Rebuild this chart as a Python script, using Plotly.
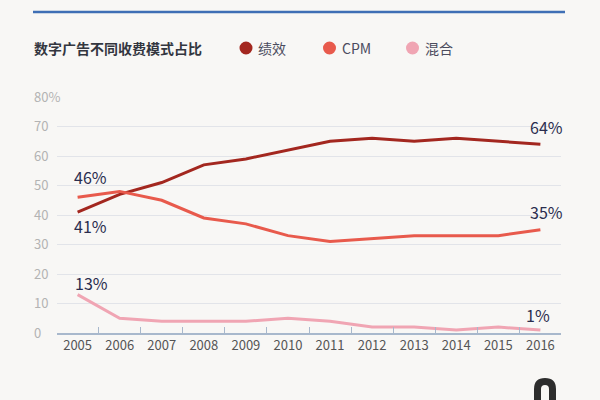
import plotly.graph_objects as go

years = [str(y) for y in range(2005, 2017)]
performance = [41, 47, 51, 57, 59, 62, 65, 66, 65, 66, 65, 64]
cpm = [46, 48, 45, 39, 37, 33, 31, 32, 33, 33, 33, 35]
mixed = [13, 5, 4, 4, 4, 5, 4, 2, 2, 1, 2, 1]
series_names = ["绩效", "CPM", "混合"]
colors = ["#a3271f", "#e85a4c", "#f0a5b3"]
y_ticks = [0, 10, 20, 30, 40, 50, 60, 70, 80]
y_ticktext = ["0", "10", "20", "30", "40", "50", "60", "70", "80%"]
title_text = "数字广告不同收费模式占比"

W, H = 600, 400
BG = "#f8f7f5"
FONT = "Noto Sans CJK SC"

def px(x):
    return x / W

def py(y):
    return 1 - y / H

fig = go.Figure()
for vals, name, col in zip([performance, cpm, mixed], series_names, colors):
    fig.add_trace(go.Scatter(x=years, y=vals, mode="lines", name=name,
                             line=dict(color=col, width=3), showlegend=False,
                             hoverinfo="skip"))

# end labels (category axes take the category index for annotations)
first, last = 0, len(years) - 1
labels = [
    (first, cpm[first], 13, 20),
    (first, performance[first], 13, -14),
    (first, mixed[first], 14, 12),
    (last, performance[last], 6, 17),
    (last, cpm[last], 6, 18),
    (last, mixed[last], -2, 15),
]
for x, y, xs, ys in labels:
    fig.add_annotation(x=x, y=y, xref="x", yref="y", text=f"{y}%", showarrow=False,
                       xanchor="center", yanchor="middle", xshift=xs, yshift=ys,
                       font=dict(size=16, color="#2b2d4e", family=FONT))

# title & legend
fig.add_annotation(x=px(32), y=py(48), xref="paper", yref="paper", text="<b>" + title_text + "</b>",
                   showarrow=False, xanchor="left", yanchor="middle",
                   font=dict(size=14, color="#33363f", family=FONT))
legend_pos = [246, 329.5, 412.5]
for lx, name, col in zip(legend_pos, series_names, colors):
    fig.add_shape(type="circle", xref="paper", yref="paper",
                  x0=px(lx - 6.5), x1=px(lx + 6.5), y0=py(48 - 6.5), y1=py(48 + 6.5),
                  fillcolor=col, line=dict(width=0))
    fig.add_annotation(x=px(lx + 10), y=py(48), xref="paper", yref="paper", text=name,
                       showarrow=False, xanchor="left", yanchor="middle",
                       font=dict(size=14, color="#4b4c5e", family=FONT))

# top rule
fig.add_shape(type="line", xref="paper", yref="paper", x0=px(33), x1=px(565),
              y0=py(12), y1=py(12), line=dict(color="#3f6fb5", width=2.5))

# partial logo at bottom (decorative)
r = 7.5
lx0, lx1, ltop, lbot = 537.5, 552.5, 381.5, 405
logo_path = (f"M {px(lx0)},{py(lbot)} L {px(lx0)},{py(ltop + r)} "
             f"Q {px(lx0)},{py(ltop)} {px(lx0 + r)},{py(ltop)} "
             f"Q {px(lx1)},{py(ltop)} {px(lx1)},{py(ltop + r)} L {px(lx1)},{py(lbot)}")
fig.add_shape(type="path", xref="paper", yref="paper", path=logo_path,
              line=dict(color="#2d2d2d", width=7))

ax_bottom, ax_top = 333, 97
unit = (ax_bottom - ax_top) / 80.0
pad = 4

fig.update_layout(
    width=W, height=H, margin=dict(l=0, r=0, t=0, b=0),
    paper_bgcolor=BG, plot_bgcolor="rgba(0,0,0,0)", template="none",
    showlegend=False,
    xaxis=dict(domain=[px(57), px(561)], range=[-0.49, 11.49], type="category",
               showgrid=False, showline=True, linecolor="#a8b8cc", linewidth=1.5,
               ticks="inside", tickson="boundaries", ticklen=6, tickcolor="#a8b8cc",
               tickfont=dict(size=13, color="#555555", family=FONT),
               automargin=False, zeroline=False, fixedrange=True),
    yaxis=dict(domain=[py(ax_bottom), py(ax_top)], range=[0, 80],
               tickvals=y_ticks, showticklabels=False,
               showgrid=True, gridcolor="#e2e4e9", gridwidth=1, zeroline=False,
               showline=False, ticks="", automargin=False, fixedrange=True),
    yaxis2=dict(domain=[py(ax_bottom + pad * unit), py(ax_top - pad * unit)],
                range=[-pad, 80 + pad], anchor="free", position=px(30),
                tickvals=y_ticks, ticktext=y_ticktext, ticklabelposition="inside",
                showgrid=False, zeroline=False, showline=False, ticks="",
                tickfont=dict(size=13, color="#b3b3b3", family=FONT),
                automargin=False, fixedrange=True),
)
fig.add_trace(go.Scatter(x=[years[0]], y=[None], yaxis="y2", mode="lines",
                         showlegend=False, hoverinfo="skip"))

fig.write_html("out.html", config={"displayModeBar": False},
               post_script="document.body.style.margin='0';")
